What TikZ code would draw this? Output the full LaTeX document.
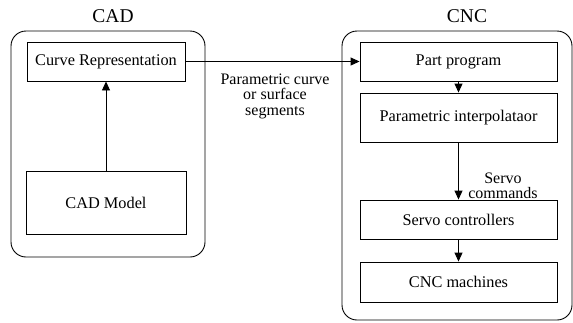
\documentclass[tikz,border=0pt]{standalone}
\usepackage{fontspec}
\setmainfont{Liberation Serif}
\usetikzlibrary{arrows.meta}

\tikzset{
	blk/.style={draw, line width=0.9pt, inner sep=0pt, font=\fontsize{16.3}{18}\selectfont},
	ttl/.style={font=\fontsize{19.5}{22}\selectfont},
	lbl/.style={align=center, inner sep=0pt, font=\fontsize{16}{15.5}\selectfont},
	flow/.style={line width=0.9pt, -{Triangle[length=9pt,width=8pt]}}
}

\begin{document}
\begin{tikzpicture}[x=1pt, y=-1pt]
			%%%%% START %%%%%
			\useasboundingbox (0, 0) rectangle (573, 322);
			
			\draw[line width=0.9pt, rounded corners=15pt] (11, 31) rectangle (205, 257);
			\draw[line width=0.9pt, rounded corners=15pt] (342, 31) rectangle (572, 320);
			
			\node[ttl] (cadttl) at (113, 16) {CAD};
			\node[ttl] (cncttl) at (467, 16) {CNC};
			
			\node[blk, minimum width=158pt, minimum height=39pt] (curve) at (106, 61.5) {Curve Representation};
			\node[blk, minimum width=160pt, minimum height=63pt] (cadmodel) at (106, 202.5) {CAD Model};
			
			\node[blk, minimum width=197pt, minimum height=39pt] (part) at (458.5, 61.5) {Part program};
			\node[blk, minimum width=197pt, minimum height=49pt] (interp) at (458.5, 117.5) {Parametric interpolataor};
			\node[blk, minimum width=197pt, minimum height=39pt] (servo) at (458.5, 219.5) {Servo controllers};
			\node[blk, minimum width=197pt, minimum height=40pt] (machines) at (458.5, 282) {CNC machines};
			
			\draw[flow] (cadmodel) -- (curve);
			\draw[flow] (curve) -- (part);
			\draw[flow] (part) -- (interp);
			\draw[flow] (interp) -- (servo);
			\draw[flow] (servo) -- (machines);
			
			\node[lbl] (seglbl) at (275, 96) {Parametric curve\\or surface\\segments};
			\node[lbl] (cmdlbl) at (503, 186) {Servo\\commands};
			%%%%% END %%%%%
\end{tikzpicture}
\end{document}
